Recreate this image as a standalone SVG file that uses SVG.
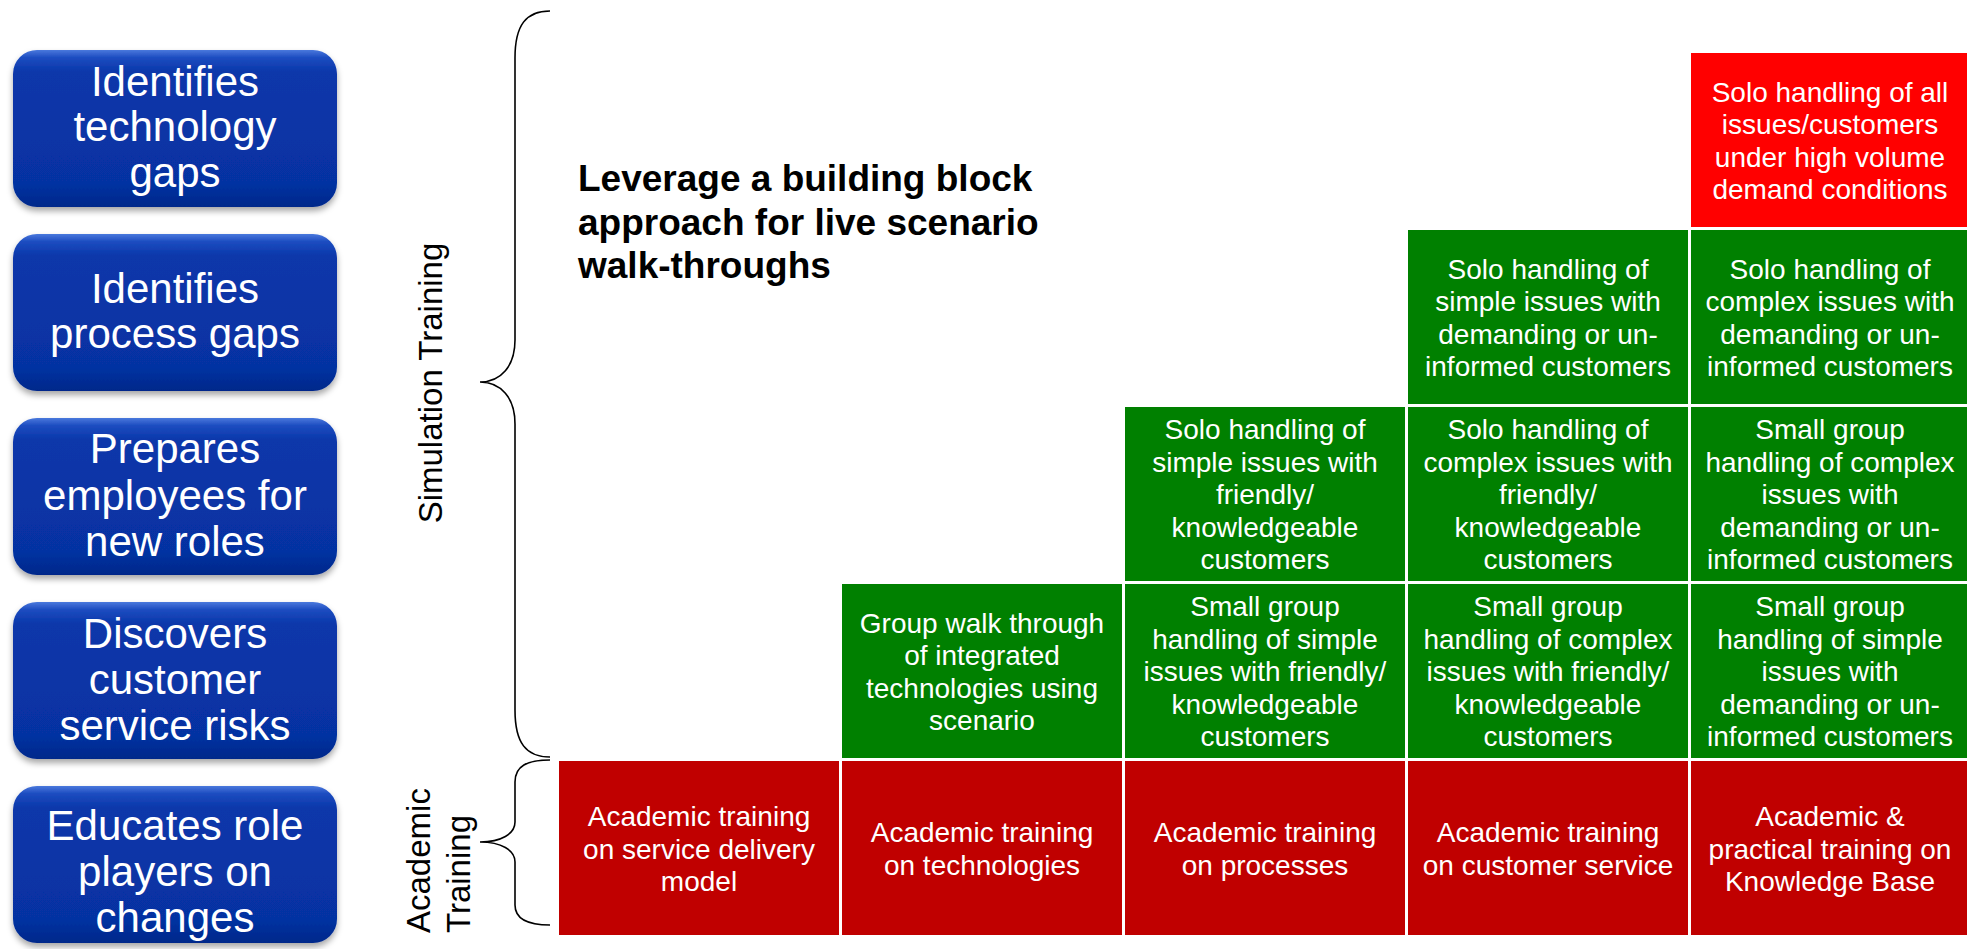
<svg xmlns="http://www.w3.org/2000/svg" width="1969" height="949" viewBox="0 0 1969 949">
<style>
.box-text{font-family:"Liberation Sans",Arial,sans-serif;font-size:42px;fill:#fff;text-anchor:middle}
.cell-text{font-family:"Liberation Sans",Arial,sans-serif;font-size:28px;fill:#fff;text-anchor:middle}
.label{font-family:"Liberation Sans",Arial,sans-serif;font-size:33px;fill:#000}
.title{font-family:"Liberation Sans",Arial,sans-serif;font-size:37px;font-weight:bold;fill:#000}
.green{fill:#008000}
.dred{fill:#C00000}
.bred{fill:#FF0000}
.brace{fill:none;stroke:#000;stroke-width:1.6}
</style>
<defs>
<linearGradient id="blueGrad" x1="0" y1="0" x2="0" y2="1">
<stop offset="0" stop-color="#4a78dc"/>
<stop offset="0.05" stop-color="#1c4cc0"/>
<stop offset="0.14" stop-color="#0a37aa"/>
<stop offset="0.85" stop-color="#0632a2"/>
<stop offset="1" stop-color="#03288a"/>
</linearGradient>
<filter id="shadow" x="-10%" y="-10%" width="120%" height="130%">
<feDropShadow dx="0" dy="4" stdDeviation="3" flood-color="#000" flood-opacity="0.35"/>
</filter>
</defs>
<rect width="1969" height="949" fill="#fff"/>

<g id="box1"><rect x="13" y="50" width="324" height="157" rx="24" fill="url(#blueGrad)" filter="url(#shadow)"/>
<text class="box-text" x="175" y="96">Identifies</text><text class="box-text" x="175" y="141">technology</text><text class="box-text" x="175" y="187">gaps</text></g>
<g id="box2"><rect x="13" y="234" width="324" height="157" rx="24" fill="url(#blueGrad)" filter="url(#shadow)"/>
<text class="box-text" x="175" y="303">Identifies</text><text class="box-text" x="175" y="348">process gaps</text></g>
<g id="box3"><rect x="13" y="418" width="324" height="157" rx="24" fill="url(#blueGrad)" filter="url(#shadow)"/>
<text class="box-text" x="175" y="463">Prepares</text><text class="box-text" x="175" y="510">employees for</text><text class="box-text" x="175" y="556">new roles</text></g>
<g id="box4"><rect x="13" y="602" width="324" height="157" rx="24" fill="url(#blueGrad)" filter="url(#shadow)"/>
<text class="box-text" x="175" y="648">Discovers</text><text class="box-text" x="175" y="694">customer</text><text class="box-text" x="175" y="740">service risks</text></g>
<g id="box5"><rect x="13" y="786" width="324" height="157" rx="24" fill="url(#blueGrad)" filter="url(#shadow)"/>
<text class="box-text" x="175" y="840">Educates role</text><text class="box-text" x="175" y="886">players on</text><text class="box-text" x="175" y="932">changes</text></g>

<g id="connectors">
<path class="brace" d="M550,11 C526,11 515,25 515,58 L515,340 C515,366 501,382 480,382 C501,382 515,398 515,424 L515,710 C515,743 526,757 550,757"/>
<path class="brace" d="M550,760 C527,760 515,766 515,782 L515,822 C515,834 501,842 480,842 C501,842 515,850 515,862 L515,905 C515,919 527,925 550,925"/>
</g>

<g id="label-simulation"><text class="label" transform="translate(442,383) rotate(-90)" text-anchor="middle">Simulation Training</text></g>
<g id="label-academic"><text class="label" transform="translate(430,933) rotate(-90)">Academic</text><text class="label" transform="translate(470,933) rotate(-90)">Training</text></g>

<g id="title"><text class="title" x="578" y="191">Leverage a building block</text><text class="title" x="578" y="234.5">approach for live scenario</text><text class="title" x="578" y="278">walk-throughs</text></g>

<g id="r0c1"><rect class="dred" x="559" y="761" width="280" height="174"/>
<text class="cell-text" x="699" y="826">Academic training</text><text class="cell-text" x="699" y="858.5">on service delivery</text><text class="cell-text" x="699" y="891">model</text></g>
<g id="r0c2"><rect class="dred" x="842" y="761" width="280" height="174"/>
<text class="cell-text" x="982" y="842">Academic training</text><text class="cell-text" x="982" y="874.5">on technologies</text></g>
<g id="r0c3"><rect class="dred" x="1125" y="761" width="280" height="174"/>
<text class="cell-text" x="1265" y="842">Academic training</text><text class="cell-text" x="1265" y="874.5">on processes</text></g>
<g id="r0c4"><rect class="dred" x="1408" y="761" width="280" height="174"/>
<text class="cell-text" x="1548" y="842">Academic training</text><text class="cell-text" x="1548" y="874.5">on customer service</text></g>
<g id="r0c5"><rect class="dred" x="1691" y="761" width="276" height="174"/>
<text class="cell-text" x="1830" y="826">Academic &amp;</text><text class="cell-text" x="1830" y="858.5">practical training on</text><text class="cell-text" x="1830" y="891">Knowledge Base</text></g>

<g id="r1c2"><rect class="green" x="842" y="584" width="280" height="174"/>
<text class="cell-text" x="982" y="632.75">Group walk through</text><text class="cell-text" x="982" y="665.25">of integrated</text><text class="cell-text" x="982" y="697.75">technologies using</text><text class="cell-text" x="982" y="730.25">scenario</text></g>
<g id="r1c3"><rect class="green" x="1125" y="584" width="280" height="174"/>
<text class="cell-text" x="1265" y="616">Small group</text><text class="cell-text" x="1265" y="648.5">handling of simple</text><text class="cell-text" x="1265" y="681">issues with friendly/</text><text class="cell-text" x="1265" y="713.5">knowledgeable</text><text class="cell-text" x="1265" y="746">customers</text></g>
<g id="r1c4"><rect class="green" x="1408" y="584" width="280" height="174"/>
<text class="cell-text" x="1548" y="616">Small group</text><text class="cell-text" x="1548" y="648.5">handling of complex</text><text class="cell-text" x="1548" y="681">issues with friendly/</text><text class="cell-text" x="1548" y="713.5">knowledgeable</text><text class="cell-text" x="1548" y="746">customers</text></g>
<g id="r1c5"><rect class="green" x="1691" y="584" width="276" height="174"/>
<text class="cell-text" x="1830" y="616">Small group</text><text class="cell-text" x="1830" y="648.5">handling of simple</text><text class="cell-text" x="1830" y="681">issues with</text><text class="cell-text" x="1830" y="713.5">demanding or un-</text><text class="cell-text" x="1830" y="746">informed customers</text></g>

<g id="r2c3"><rect class="green" x="1125" y="407" width="280" height="174"/>
<text class="cell-text" x="1265" y="439">Solo handling of</text><text class="cell-text" x="1265" y="471.5">simple issues with</text><text class="cell-text" x="1265" y="504">friendly/</text><text class="cell-text" x="1265" y="536.5">knowledgeable</text><text class="cell-text" x="1265" y="569">customers</text></g>
<g id="r2c4"><rect class="green" x="1408" y="407" width="280" height="174"/>
<text class="cell-text" x="1548" y="439">Solo handling of</text><text class="cell-text" x="1548" y="471.5">complex issues with</text><text class="cell-text" x="1548" y="504">friendly/</text><text class="cell-text" x="1548" y="536.5">knowledgeable</text><text class="cell-text" x="1548" y="569">customers</text></g>
<g id="r2c5"><rect class="green" x="1691" y="407" width="276" height="174"/>
<text class="cell-text" x="1830" y="439">Small group</text><text class="cell-text" x="1830" y="471.5">handling of complex</text><text class="cell-text" x="1830" y="504">issues with</text><text class="cell-text" x="1830" y="536.5">demanding or un-</text><text class="cell-text" x="1830" y="569">informed customers</text></g>

<g id="r3c4"><rect class="green" x="1408" y="230" width="280" height="174"/>
<text class="cell-text" x="1548" y="278.75">Solo handling of</text><text class="cell-text" x="1548" y="311.25">simple issues with</text><text class="cell-text" x="1548" y="343.75">demanding or un-</text><text class="cell-text" x="1548" y="376.25">informed customers</text></g>
<g id="r3c5"><rect class="green" x="1691" y="230" width="276" height="174"/>
<text class="cell-text" x="1830" y="278.75">Solo handling of</text><text class="cell-text" x="1830" y="311.25">complex issues with</text><text class="cell-text" x="1830" y="343.75">demanding or un-</text><text class="cell-text" x="1830" y="376.25">informed customers</text></g>

<g id="r4c5"><rect class="bred" x="1691" y="53" width="276" height="174"/>
<text class="cell-text" x="1830" y="101.75">Solo handling of all</text><text class="cell-text" x="1830" y="134.25">issues/customers</text><text class="cell-text" x="1830" y="166.75">under high volume</text><text class="cell-text" x="1830" y="199.25">demand conditions</text></g>
</svg>
